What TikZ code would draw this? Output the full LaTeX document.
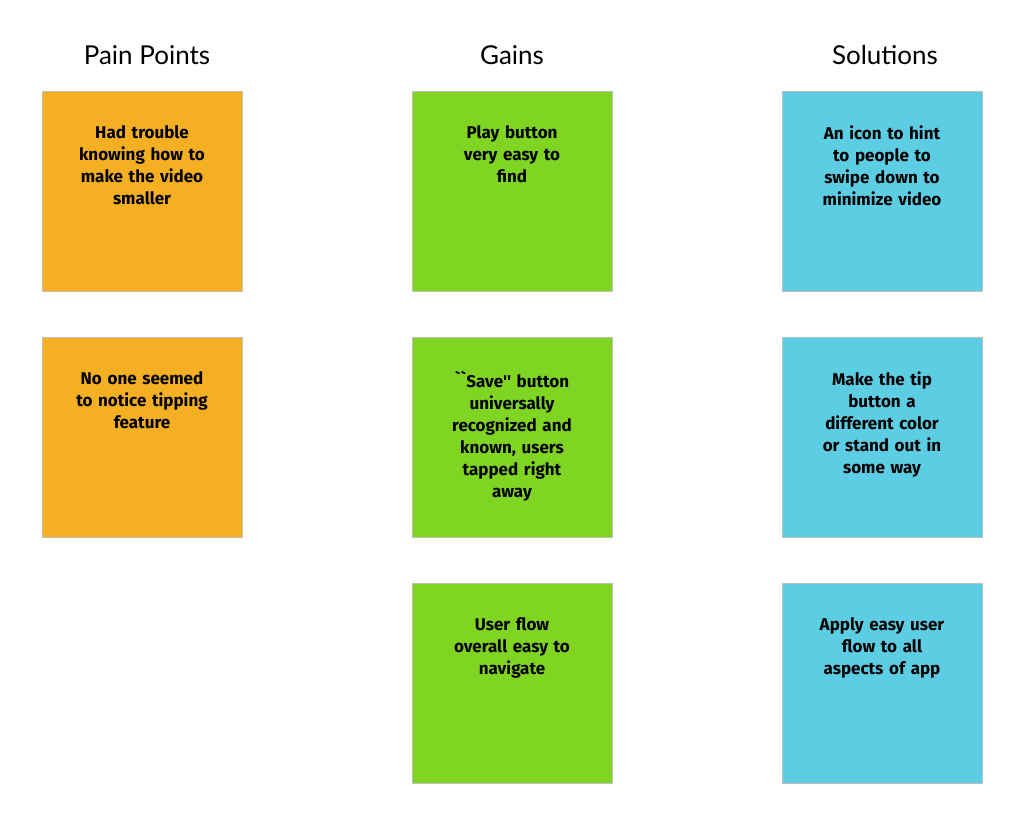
\documentclass[tikz,border=0pt]{standalone}
\usepackage{fontspec}
\setmainfont{Lato}
\newfontfamily\notefont{Fira Sans}
\definecolor{orangenote}{HTML}{F5AF23}
\definecolor{greennote}{HTML}{80D523}
\definecolor{bluenote}{HTML}{5DCDE3}
\begin{document}
\begin{tikzpicture}[x=1pt,y=-1pt,
  note/.style={minimum width=200pt,minimum height=200pt,anchor=north west,inner sep=0pt,draw=black!25,line width=0.6pt},
  notetext/.style={anchor=north,align=center,font=\notefont\bfseries\fontsize{17}{22}\selectfont,text width=150pt},
  title/.style={font=\fontsize{26}{30}\selectfont}]
\useasboundingbox (0,0) rectangle (1024,838);
\node[title] (t1) at (147,55) {Pain Points};
\node[title] (t2) at (512,55) {Gains};
\node[title] (t3) at (885,55) {Solutions};
\node[note,fill=orangenote] (p1) at (42,91) {};
\node[note,fill=orangenote] (p2) at (42,337) {};
\node[note,fill=greennote] (g1) at (412,91) {};
\node[note,fill=greennote] (g2) at (412,337) {};
\node[note,fill=greennote] (g3) at (412,583) {};
\node[note,fill=bluenote] (s1) at (782,91) {};
\node[note,fill=bluenote] (s2) at (782,337) {};
\node[note,fill=bluenote] (s3) at (782,583) {};
\node[notetext] (p1t) at (142,122) {Had trouble\\knowing how to\\make the video\\smaller};
\node[notetext] (p2t) at (142,368) {No one seemed\\to notice tipping\\feature};
\node[notetext] (g1t) at (512,122) {Play button\\very easy to\\find};
\node[notetext] (g2t) at (512,368) {``Save'' button\\universally\\recognized and\\known, users\\tapped right\\away};
\node[notetext] (g3t) at (512,614) {User flow\\overall easy to\\navigate};
\node[notetext] (s1t) at (882,122) {An icon to hint\\to people to\\swipe down to\\minimize video};
\node[notetext] (s2t) at (882,368) {Make the tip\\button a\\different color\\or stand out in\\some way};
\node[notetext] (s3t) at (882,614) {Apply easy user\\flow to all\\aspects of app};
\end{tikzpicture}
\end{document}
